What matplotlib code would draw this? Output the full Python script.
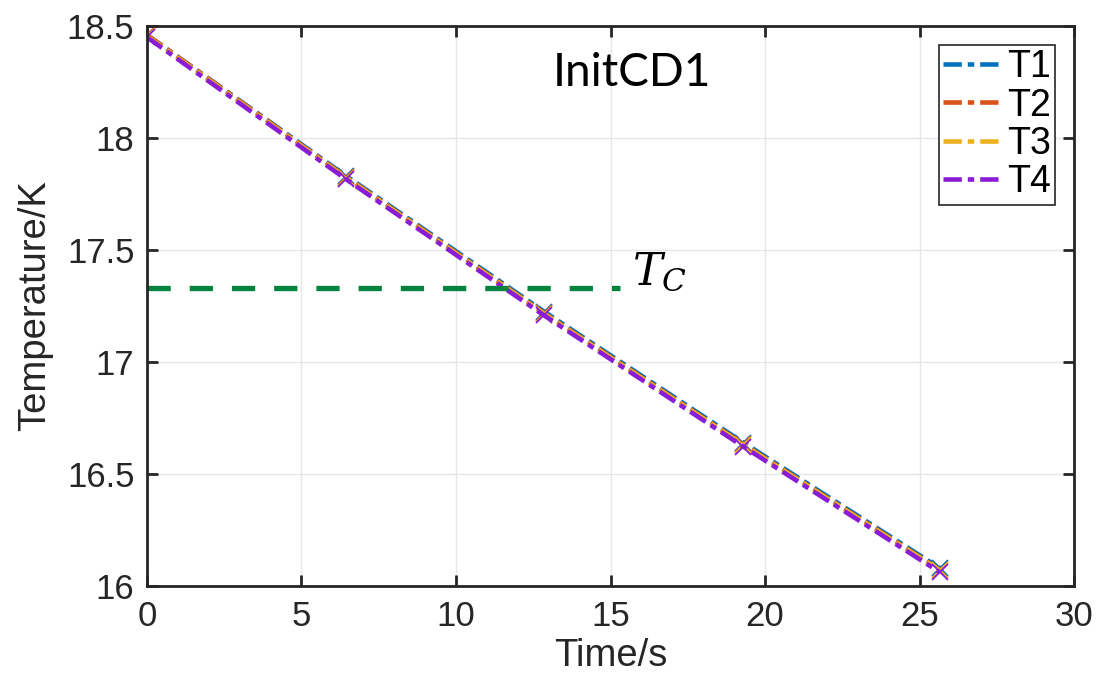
import numpy as np
import matplotlib.pyplot as plt

plt.rcParams['font.family'] = ['Liberation Sans', 'DejaVu Sans']
plt.rcParams['mathtext.fontset'] = 'dejavuserif'

# sampled times (s) and temperatures (K) for the four sensors
time = [0.0, 6.45, 12.85, 19.3, 25.65]
T1 = [18.46, 17.83, 17.225, 16.64, 16.08]
T2 = [18.46, 17.825, 17.218, 16.633, 16.073]
T3 = [18.455, 17.822, 17.215, 16.63, 16.07]
T4 = [18.45, 17.815, 17.208, 16.622, 16.062]
names = ['T1', 'T2', 'T3', 'T4']
colors = ['#0072BD', '#D95319', '#EDB120', '#8A1BD6']

Tc = 17.33
Tc_xend = 15.3

fig = plt.figure(figsize=(11.16, 6.79), dpi=100)
ax = fig.add_axes([0.1317, 0.137, 0.8307, 0.8247])

for T, name, c in zip([T1, T2, T3, T4], names, colors):
    ax.plot(time, T, color=c, lw=3.3, dashes=(4.0, 1.3, 1.4, 1.3), label=name)
    ax.plot(time, T, 'x', color=c, ms=11, mew=1.3)

ax.plot([0, Tc_xend], [Tc, Tc], color='#00843D', lw=3.8, dashes=(4.4, 3.6))
ax.text(15.7, 17.40, r'$T_C$', fontsize=32, va='center', ha='left')
ax.text(15.7, 18.29, 'InitCD1', fontsize=33, ha='center', va='center',
        family=['Lato', 'DejaVu Sans'])

ax.set_xlim(0, 30)
ax.set_ylim(16, 18.5)
ax.set_xticks(np.arange(0, 31, 5))
ax.set_yticks([16, 16.5, 17, 17.5, 18, 18.5])
ax.set_yticklabels(['16', '16.5', '17', '17.5', '18', '18.5'])
ax.grid(True, color='#e6e6e6', lw=1)
ax.set_axisbelow(True)
ax.tick_params(direction='in', length=8, width=2, labelsize=25, top=True, right=True,
               colors='#262626')
ax.tick_params(axis='x', pad=10)
ax.tick_params(axis='y', pad=9)
for s in ax.spines.values():
    s.set_linewidth(2)
    s.set_color('#262626')

ax.set_xlabel('Time/s', fontsize=27.5, color='#262626', labelpad=4)
ax.set_ylabel('Temperature/K', fontsize=27.5, color='#262626', labelpad=10)

leg = ax.legend(loc='upper right', fontsize=27, handlelength=1.6, handletextpad=0.1,
                borderpad=0.12, labelspacing=0.06, fancybox=False, framealpha=1,
                edgecolor='#262626', borderaxespad=0.5)
leg.get_frame().set_linewidth(1.2)

fig.savefig('out.png', dpi=100)
